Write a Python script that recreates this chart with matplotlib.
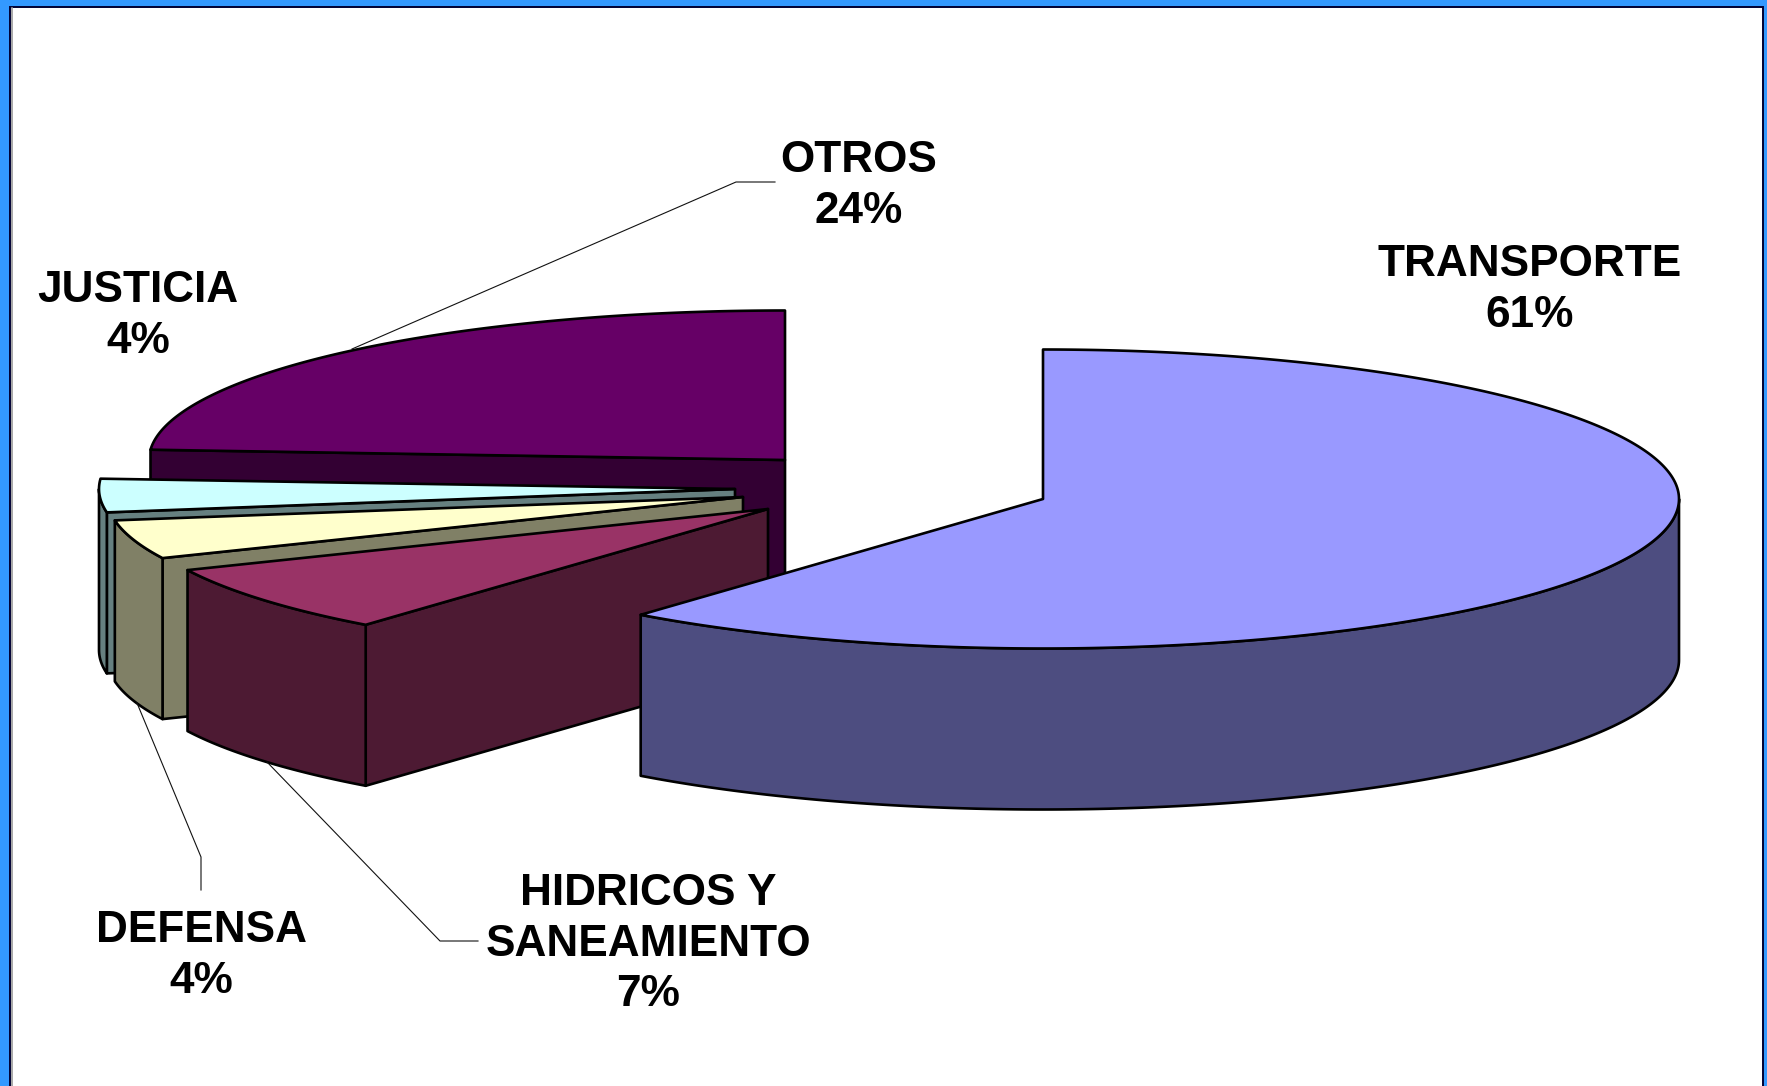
"""Exploded pseudo-3D pie of spending shares, drawn with polygons on a pixel-sized axes."""
import matplotlib
matplotlib.use("Agg")
import matplotlib.pyplot as plt
import numpy as np
from matplotlib.patches import Polygon, Rectangle

W, H = 1767, 1086

# clockwise from 12 o'clock; unrounded shares
categories = ["TRANSPORTE", "HIDRICOS Y\nSANEAMIENTO", "DEFENSA", "JUSTICIA", "OTROS"]
values = [60.9, 7.4, 4.2, 3.6, 23.9]
top_colors = ["#9999FF", "#993366", "#FFFFCC", "#CCFFFF", "#660066"]
side_colors = ["#4D4D80", "#4D1A33", "#808066", "#668080", "#330033"]

apexes = [(1043, 499), (768, 509), (743, 497), (735, 489), (785, 460)]
label_pos = [(1530, 290), (648, 944), (201, 956), (138, 316), (859, 186)]
draw_order = [4, 3, 2, 1, 0]

RX, RY, DEPTH = 636, 149.5, 161
LW = 1.9


def rim(cx, cy, t0, t1):
    t = np.radians(np.linspace(t0, t1, max(2, int(abs(t1 - t0) * 2))))
    return np.column_stack([cx + RX * np.sin(t), cy - RY * np.cos(t)])


def add_poly(ax, pts, color):
    ax.add_patch(Polygon(pts, closed=True, facecolor=color, edgecolor="black",
                         linewidth=LW, joinstyle="round"))


def draw_slice(ax, apex, t0, t1, top, side):
    cx, cy = apex
    drop = np.array([0, DEPTH])
    # radial face on the leading edge, only when it looks toward the viewer
    if np.sin(np.radians(t0)) < -1e-6:
        edge = np.array([[cx, cy], rim(cx, cy, t0, t0 + 1)[0]])
        add_poly(ax, np.vstack([edge, edge[::-1] + drop]), side)
    # outer wall is visible on the front half of the ellipse only
    a, b = max(t0, 90), min(t1, 270)
    if a < b:
        arc = rim(cx, cy, a, b)
        add_poly(ax, np.vstack([arc, arc[::-1] + drop]), side)
    add_poly(ax, np.vstack([[cx, cy], rim(cx, cy, t0, t1)]), top)


fig = plt.figure(figsize=(W / 100, H / 100), dpi=100, facecolor="#3399FF")
ax = fig.add_axes([0, 0, 1, 1])
ax.set_xlim(0, W)
ax.set_ylim(H, 0)
ax.axis("off")

ax.add_patch(Rectangle((9.5, 7), 1753.5, H + 10, facecolor="white", edgecolor="#000033", linewidth=1.4))
ax.plot([11.5, 11.5], [8, H], color="#999999", lw=1.2)

edges = np.cumsum([0] + values) / np.sum(values) * 360
for i in draw_order:
    draw_slice(ax, apexes[i], edges[i], edges[i + 1], top_colors[i], side_colors[i])

# leader lines
ax.plot([352, 736, 775], [349, 182, 182], color="#111111", lw=0.8)
ax.plot([137, 201, 201], [703, 857, 890], color="#111111", lw=0.8)
ax.plot([267, 440, 478], [762, 941, 941], color="#111111", lw=0.8)

for cat, val, (x, y) in zip(categories, values, label_pos):
    ax.text(x, y, f"{cat}\n{val:.0f}%", ha="center", va="center", ma="center",
            family="Liberation Sans", fontweight="bold", fontsize=31.8, linespacing=1.31, color="black")

fig.savefig("out.png", dpi=100, facecolor=fig.get_facecolor())
